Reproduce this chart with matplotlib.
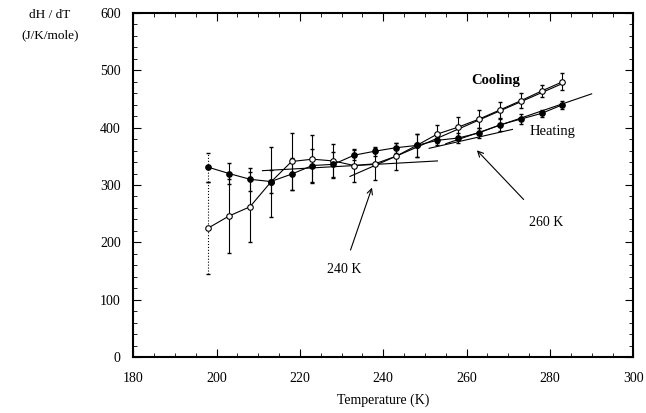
import numpy as np
import matplotlib.pyplot as plt
from matplotlib.ticker import MultipleLocator

# Temperatures (K)
temp = np.array([198, 203, 208, 213, 218, 223, 228, 233, 238, 243,
                 248, 253, 258, 263, 268, 273, 278, 283])

# dH/dT on cooling (open circles) and heating (filled circles)
cooling = np.array([225, 246, 262, 305, 341, 345, 342, 334, 337, 350,
                    369, 389, 401, 415, 431, 447, 464, 480])
cooling_err = np.array([80, 65, 61, 61, 50, 42, 30, 28, 28, 23,
                        20, 16, 18, 16, 14, 13, 11, 15])
heating = np.array([331, 320, 310, 306, 319, 334, 336, 352, 359, 365,
                    369, 378, 382, 391, 405, 415, 425, 440])
heating_err = np.array([25, 19, 20, 20, 28, 28, 22, 9, 8, 9,
                        20, 8, 9, 9, 10, 8, 6, 7])

# straight-line fits drawn through the data: (T start, T end, v start, v end)
fit_lines = [
    ([211, 253], [325, 342]),
    ([232, 283], [315, 477]),
    ([251, 271], [364, 397]),
    ([255, 290], [372, 459]),
]

plt.rcParams['font.family'] = ['Liberation Serif', 'DejaVu Serif']

fig = plt.figure(figsize=(6.46, 4.13), dpi=100)
ax = fig.add_axes([0.2063, 0.1356, 0.7741, 0.8329])

# dotted error bars for the first point, solid for the rest
for vals, err, face in [(cooling, cooling_err, 'white'), (heating, heating_err, 'black')]:
    ax.errorbar(temp[:1], vals[:1], yerr=err[:1], fmt='none', ecolor='black',
                elinewidth=0.8, capsize=1.5, ls=':')[2][0].set_linestyle(':')
    ax.errorbar(temp[1:], vals[1:], yerr=err[1:], fmt='none', ecolor='black',
                elinewidth=0.8, capsize=1.5)
    ax.plot(temp, vals, '-', color='black', lw=0.8, marker='o', markersize=4,
            markerfacecolor=face, markeredgecolor='black', markeredgewidth=0.8, zorder=3)

for tx, vy in fit_lines:
    ax.plot(tx, vy, '-', color='black', lw=0.8)

ax.annotate('240 K', xy=(237.5, 300), xytext=(230.5, 152), fontsize=10,
            ha='center', va='center',
            arrowprops=dict(arrowstyle='->', color='black', lw=0.8, shrinkA=8))
ax.annotate('260 K', xy=(262, 364), xytext=(279, 234), fontsize=10,
            ha='center', va='center',
            arrowprops=dict(arrowstyle='->', color='black', lw=0.8, shrinkA=14))
ax.text(267, 483, 'Cooling', fontsize=10.5, fontweight='bold', ha='center', va='center')
ax.text(280.5, 394, 'Heating', fontsize=10.5, ha='center', va='center')

ax.set_xlim(180, 300)
ax.set_ylim(0, 600)
ax.xaxis.set_major_locator(MultipleLocator(20))
ax.xaxis.set_minor_locator(MultipleLocator(5))
ax.yaxis.set_major_locator(MultipleLocator(100))
ax.yaxis.set_minor_locator(MultipleLocator(20))
ax.tick_params(which='both', direction='in', top=True, right=True, labelsize=10)
ax.tick_params(which='major', length=6, width=0.8)
ax.tick_params(which='minor', length=3, width=0.6)
ax.tick_params(axis='x', pad=11)
ax.tick_params(axis='y', pad=9)
for s in ax.spines.values():
    s.set_linewidth(1.5)

ax.set_xlabel('Temperature (K)', fontsize=10, labelpad=6)
fig.text(50 / 646, 1 - 15 / 413, 'dH / dT', fontsize=9.5, ha='center', va='center')
fig.text(50 / 646, 1 - 35 / 413, '(J/K/mole)', fontsize=9.5, ha='center', va='center')

plt.savefig('out.png', dpi=100)
